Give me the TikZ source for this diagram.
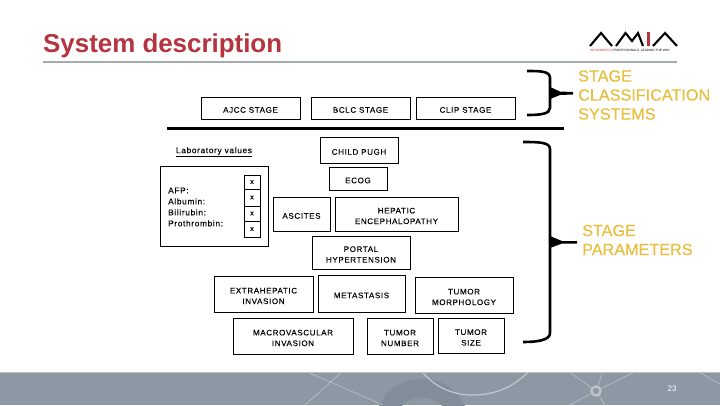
\documentclass[tikz,border=0pt]{standalone}
\usepackage{fontspec}
\setmainfont{Liberation Sans}
\newfontfamily\boxfont[LetterSpace=8,FakeBold=0.06]{Liberation Sans}
\newfontfamily\goldfont[FakeBold=0.3]{Liberation Sans}
\newcommand{\lowerfirst}{\rule{0pt}{9.5pt}}
\definecolor{titlered}{HTML}{B5343F}
\definecolor{ruleg}{HTML}{A6ABAE}
\definecolor{gold}{HTML}{E9BE3E}
\definecolor{foot}{HTML}{8E98A4}
\definecolor{footdark}{HTML}{838D99}
\definecolor{footline}{HTML}{C2C8CE}
\tikzset{
  box/.style={draw=black,line width=0.8pt,fill=white,inner sep=0pt,align=center,
    font=\boxfont\fontsize{8}{10.6}\selectfont},
  plain/.style={inner sep=0pt,align=left,font=\boxfont\fontsize{8.3}{11}\selectfont},
  xbox/.style={draw=black,line width=0.8pt,minimum width=16pt,inner sep=0pt,
    font=\boxfont\fontsize{7}{8}\selectfont},
  goldtext/.style={anchor=west,inner sep=0pt,align=left,text=gold,
    font=\goldfont\fontsize{16.2}{19}\selectfont},
  brace/.style={draw=black,line width=2.6pt,line join=round},
  tip/.style={fill=black,draw=none},
  footstroke/.style={draw=footline,line width=0.5pt},
  logostroke/.style={draw=black,line width=2.1pt,line join=miter}
}
\begin{document}
\begin{tikzpicture}[x=1pt,y=-1pt]
\useasboundingbox (0,0) rectangle (720,405);
\fill[white] (0,0) rectangle (720,405);
% footer
\fill[foot] (0,372) rectangle (720,405);
\begin{scope}
\clip (0,372) rectangle (720,405);
\draw[footdark,line width=19pt] (422,426) circle (38);
\draw[footline,line width=1.2pt] (417,365) .. controls (432,387) and (452,395) .. (473,395) .. controls (495,395) and (515,387) .. (532,368);
\draw[footstroke] (305,371) -- (383,405);
\draw[footstroke] (343,371) -- (305,405);
\draw[footstroke] (568,371) -- (596,391) -- (570,405);
\draw[footstroke] (603,371) -- (596,391) -- (605,405);
\draw[footstroke] (596,391) -- (637,371);
\draw[footstroke] (697,371) -- (720,384);
\end{scope}
\draw[line width=0.8pt,draw=ruleg!75!white] (0,372) -- (720,372);
\node[circle,draw=ruleg!70!white,fill=foot,line width=2.4pt,minimum size=9pt,inner sep=0pt] (ring) at (596,391) {};
\node[inner sep=0pt,text=white,font=\fontsize{8}{9}\selectfont] (pageno) at (672,389) {23};
% title
\node[anchor=base west,inner sep=0pt,text=titlered,font=\fontsize{25.9}{30}\selectfont\bfseries] (title) at (43,52) {System description};
\draw[ruleg,line width=1.6pt] (43,62) -- (677,62);
% logo
\draw[logostroke] (590,46) -- (601,33) -- (612,46);
\draw[logostroke] (616,46) -- (625.5,33) -- (632,41) -- (638,33) -- (643,46);
\fill[titlered] (646.5,32) rectangle (650,46);
\draw[logostroke] (653,46) -- (665,33) -- (677,46);
\node[anchor=west,inner sep=0pt,font=\fontsize{3.15}{4}\selectfont] (tagline) at (590,50.5) {\textcolor{titlered}{INFORMATICS} PROFESSIONALS. LEADING THE WAY.};
% staging systems
\node[box,minimum width=99pt,minimum height=22pt] (ajcc) at (250.5,108) {\lowerfirst AJCC STAGE};
\node[box,minimum width=99pt,minimum height=22pt] (bclc) at (360.5,108) {\lowerfirst BCLC STAGE};
\node[box,minimum width=99pt,minimum height=22pt] (clip) at (465.5,108) {\lowerfirst CLIP STAGE};
\draw[black,line width=3pt] (167,128) -- (564,128);
% parameters
\node[box,minimum width=78pt,minimum height=26pt] (child) at (359,150) {\lowerfirst CHILD PUGH};
\node[box,minimum width=58pt,minimum height=23pt] (ecog) at (358,178.5) {\lowerfirst ECOG};
\node[plain] (labtitle) at (214,152) {\underline{Laboratory values}};
\draw[black,line width=0.8pt,fill=white] (160,166) rectangle (268,246);
\node[plain,anchor=west] (labs) at (168,207) {AFP:\\Albumin:\\Bilirubin:\\Prothrombin:};
\node[xbox,minimum height=14pt] (x1) at (252,182) {x};
\node[xbox,minimum height=17pt] (x2) at (252,197.5) {x};
\node[xbox,minimum height=15pt] (x3) at (252,213.5) {x};
\node[xbox,minimum height=16pt] (x4) at (252,229) {x};
\node[box,minimum width=57pt,minimum height=34pt] (ascites) at (301.5,214) {\lowerfirst ASCITES};
\node[box,minimum width=123pt,minimum height=34pt] (hepatic) at (396.5,214) {\lowerfirst HEPATIC\\ENCEPHALOPATHY};
\node[box,minimum width=98pt,minimum height=33pt] (portal) at (361,252.5) {\lowerfirst PORTAL\\HYPERTENSION};
\node[box,minimum width=99pt,minimum height=36pt] (extra) at (263.5,294) {\lowerfirst EXTRAHEPATIC\\INVASION};
\node[box,minimum width=87pt,minimum height=37pt] (meta) at (361.5,293.5) {\lowerfirst METASTASIS};
\node[box,minimum width=98pt,minimum height=36pt] (morph) at (464,295) {\lowerfirst TUMOR\\MORPHOLOGY};
\node[box,minimum width=120pt,minimum height=36pt] (macro) at (293,336) {\lowerfirst MACROVASCULAR\\INVASION};
\node[box,minimum width=66pt,minimum height=36pt] (number) at (400,336) {\lowerfirst TUMOR\\NUMBER};
\node[box,minimum width=66pt,minimum height=35pt] (size) at (471,335.5) {\lowerfirst TUMOR\\SIZE};
% braces
\draw[brace] (527,71) .. controls (540,71) and (550,71) .. (550,78) -- (550,108) .. controls (550,114) and (540,115) .. (527,115);
\fill[tip] (550,87) -- (560,91.5) -- (573,92) -- (573,94.5) -- (560,95) -- (550,99) -- cycle;
\draw[brace] (523,142) .. controls (538,142) and (550,142) .. (550,149) -- (550,333) .. controls (550,340) and (538,342) .. (523,342);
\fill[tip] (550,236) -- (562,241) -- (577,241) -- (577,243.5) -- (562,243.5) -- (550,248) -- cycle;
\node[goldtext] (classif) at (578,95) {STAGE\\CLASSIFICATION\\SYSTEMS};
\node[goldtext] (params) at (582,240) {STAGE\\PARAMETERS};
\end{tikzpicture}
\end{document}
